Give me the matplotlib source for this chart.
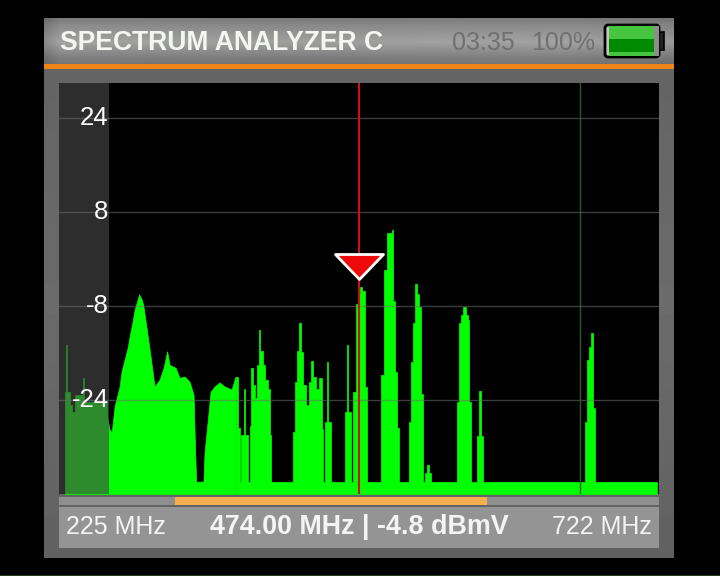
import numpy as np
import matplotlib
matplotlib.use("Agg")
import matplotlib.pyplot as plt
from matplotlib.patches import Rectangle, FancyBboxPatch
from matplotlib.path import Path
from matplotlib.transforms import ScaledTranslation

title = "SPECTRUM ANALYZER C"
clock = "03:35"
charge = "100%"
start_label = "225 MHz"
stop_label = "722 MHz"
cursor_label = "474.00 MHz | -4.8 dBm" + "V"

# start of each step in MHz and its level in dBmV, left of the hump
low_freq = [230.0, 230.8, 231.6, 234.1, 235.8, 238.3, 244.9, 246.1, 264.8]
low_level = [-22.7, -14.6, -22.7, -24.8, -26.1, -23.1, -20.2, -24.4, -26.5]

# smooth hump, drawn with sloped sides
hump_freq = [264.8, 267.2, 269.0, 271.4, 275.5, 277.2, 279.7, 282.2, 283.8, 286.3, 288.0,
             290.4, 291.7, 293.8, 295.0, 297.1, 300.4, 304.5, 308.7, 312.0, 314.9, 316.9, 321.9,
             325.2, 329.4, 333.5, 336.8, 337.8, 338.9, 341.0, 345.0, 345.9, 348.4, 350.9, 354.2,
             358.4, 362.5, 368.3, 371.6]
hump_level = [-26.5, -29.0, -29.5, -25.1, -21.7, -19.1, -17.1, -15.1, -13.2, -10.6, -8.6,
              -6.9, -6.0, -6.9, -7.7, -10.6, -15.4, -21.7, -20.5, -18.5, -15.7, -18.0, -18.5,
              -20.2, -20.0, -20.9, -23.1, -30.7, -37.9, -37.9, -37.9, -32.9, -27.8, -22.6, -21.7,
              -21.0, -21.7, -22.2, -20.0]

# the rest of the trace, steps again
freq = [371.6, 373.3, 374.9, 375.8,
        378.2, 379.1, 381.6, 383.2, 384.1, 385.7, 387.4, 389.0, 390.7, 391.5, 394.0, 395.6,
        398.1, 399.8, 400.6, 418.8, 420.5, 422.1, 424.2, 425.5, 427.1, 429.6, 432.1, 434.2,
        435.4, 437.9, 440.4, 442.9, 443.7, 445.3, 447.4, 448.2, 450.3, 461.9, 464.0, 464.8,
        466.9, 468.5, 471.0, 472.7, 474.3, 476.0, 478.5, 480.1, 491.7, 494.2, 496.7, 500.8,
        502.1, 503.3, 505.0, 506.6, 514.9, 516.6, 518.2, 519.9, 521.5, 523.2, 524.8, 526.5,
        528.2, 530.2, 531.5, 533.1, 554.7, 556.3, 558.0, 560.1, 562.1, 563.8, 565.0, 566.7,
        571.2, 573.3, 574.6, 576.2, 660.7, 662.4, 664.0, 665.7, 667.3, 669.0, 720.3]
level = [-20.0, -28.7, -37.9, -29.9,
         -22.2, -29.9, -37.9, -28.5, -18.6, -21.4, -23.6, -18.0, -12.0, -15.7, -18.0, -20.5,
         -22.2, -29.9, -37.9, -29.4, -20.9, -15.7, -10.8, -15.9, -21.4, -24.8, -21.0, -17.4,
         -20.0, -22.2, -20.3, -29.0, -37.9, -27.8, -17.6, -27.8, -37.9, -26.1, -14.7, -26.1,
         -37.9, -22.7, -7.7, -6.0, -4.8, -5.5, -21.7, -37.9, -19.7, -1.8, 4.5, 4.9,
         -7.2, -19.3, -28.7, -37.9, -27.7, -17.6, -10.8, -4.2, -6.0, -8.1, -22.9, -37.9,
         -36.5, -35.0, -36.5, -37.9, -24.3, -10.8, -9.5, -8.1, -9.5, -10.3, -24.3, -37.9,
         -30.2, -22.5, -30.2, -37.9, -27.7, -17.1, -14.9, -12.5, -25.3, -37.9, -37.9]

y_ticks = [24, 8, -8, -24]
cursor_freq = 474.0
cursor_level = -4.8
second_marker = 656.8
span_start, span_stop = 321.0, 579.5
f_min, f_max = 225, 722
db_min, db_max = -40, 30

W, H = 720, 576
fig = plt.figure(figsize=(W / 100, H / 100), dpi=100, facecolor="black")
plt.rcParams["font.family"] = ["Liberation Sans", "DejaVu Sans"]


def px_axes(x0, y0, x1, y1):
    return fig.add_axes([x0 / W, 1 - y1 / H, (x1 - x0) / W, (y1 - y0) / H])


# instrument body, in screen pixels
bg = fig.add_axes([0, 0, 1, 1])
bg.axis("off")
body = np.interp(np.arange(64, 558), [64, 300, 558], [0.39, 0.42, 0.38])
bg.imshow(body[:, None], extent=(44, 674, 558, 64), cmap="gray", vmin=0, vmax=1, aspect="auto")
shade = np.interp(np.arange(18, 65), [18, 24, 42, 58, 64], [0.48, 0.54, 0.64, 0.50, 0.46])
across = np.interp(np.arange(44, 674), [44, 60, 300, 560, 674], [0.86, 1.0, 0.98, 1.0, 0.94])
bg.imshow(shade[:, None] * across[None, :], extent=(44, 674, 64, 18), cmap="gray", vmin=0, vmax=1, aspect="auto")
bg.add_patch(Rectangle((44, 64), 630, 5, color="#EE8418", lw=0))
bg.add_patch(Rectangle((59, 507), 600, 41, color="#939493", lw=0))
bg.add_patch(Rectangle((0, 574.5), 720, 1.5, color="#1c3a1c", lw=0))
bg.set_xlim(0, W)
bg.set_ylim(H, 0)

bg.text(60, 43.5, title, color="#F4F6F2", fontsize=19.1, fontweight="bold", va="center", ha="left")
bg.text(452, 43.5, clock, color="#6E716E", fontsize=18, va="center", ha="left")
bg.text(531, 43.5, charge, color="#6E716E", fontsize=18, va="center", ha="left")
bg.text(66, 527, start_label, color="#F4F4F4", fontsize=18, va="center", ha="left")
bg.text(359.5, 527, cursor_label, color="#F4F4F4", fontsize=19.4, fontweight="bold", va="center", ha="center")
bg.text(652, 527, stop_label, color="#F4F4F4", fontsize=18, va="center", ha="right")

# battery
bg.add_patch(FancyBboxPatch((606, 26), 52, 30, boxstyle="round,pad=1.0,rounding_size=3", fc="#C4C6C4", ec="black", lw=2))
bg.add_patch(Rectangle((659, 32), 5, 18, fc="#202220", ec="black", lw=1.2))
bg.add_patch(Rectangle((654, 26), 5, 30, color="#8C8E8C", lw=0))
bg.add_patch(Rectangle((609, 26), 45, 13, color="#46C63F", lw=0))
bg.add_patch(Rectangle((609, 39), 45, 13, color="#008A00", lw=0))
bg.add_patch(Rectangle((609, 52), 45, 4, color="#46C63F", lw=0))

# spectrum
ax = px_axes(58.6, 83, 658.6, 494)
ax.set_facecolor("black")
ax.set_xlim(f_min, f_max)
ax.set_ylim(db_min, db_max)
ax.fill_between(low_freq, low_level, db_min, step="post", fc="#00FF00", ec="#00FF00", lw=0.5, zorder=1)
ax.fill_between(hump_freq, hump_level, db_min, fc="#00FF00", ec="#00FF00", lw=0.5, zorder=1)
ax.fill_between(freq, level, db_min, step="post", fc="#00FF00", ec="#00FF00", lw=0.5, zorder=1)
ax.axvspan(f_min, 266.6, color="#484848", alpha=0.635, lw=0, zorder=1.5)
ax.set_yticks(y_ticks)
ax.set_yticklabels([str(v) for v in y_ticks], fontsize=18.5, color="white", ha="right", va="center_baseline")
ax.set_xticks([])
ax.tick_params(axis="y", length=0, pad=-36)
shift_up = ScaledTranslation(0, 2 / 72, fig.dpi_scale_trans)
for lab in ax.get_yticklabels():
    lab.set_transform(lab.get_transform() + shift_up)
ax.grid(axis="y", color="#6E6E6E", alpha=0.55, lw=1)
ax.set_axisbelow(False)
for s in ax.spines.values():
    s.set_visible(False)
ax.axvline(second_marker, color="#2F5A2F", lw=1, zorder=3)
ax.axvline(cursor_freq, color="#D01010", lw=1.5, zorder=3)
tip = Path([(-24, 33), (24, 33), (0, 8), (-24, 33)], closed=True)
ax.plot([cursor_freq], [cursor_level], marker=tip, ms=47.5, mfc="#EE0A0A", mec="white", mew=2, clip_on=False, zorder=4)

# span bar under the trace
bar = px_axes(59, 497, 659, 505)
bar.set_xlim(f_min, f_max)
bar.set_facecolor("#8F8F8F")
bar.axvspan(span_start, span_stop, color="#F5AE52", lw=0)
bar.set_xticks([])
bar.set_yticks([])
for s in bar.spines.values():
    s.set_visible(False)

fig.savefig("out.png", dpi=100, facecolor="black")
